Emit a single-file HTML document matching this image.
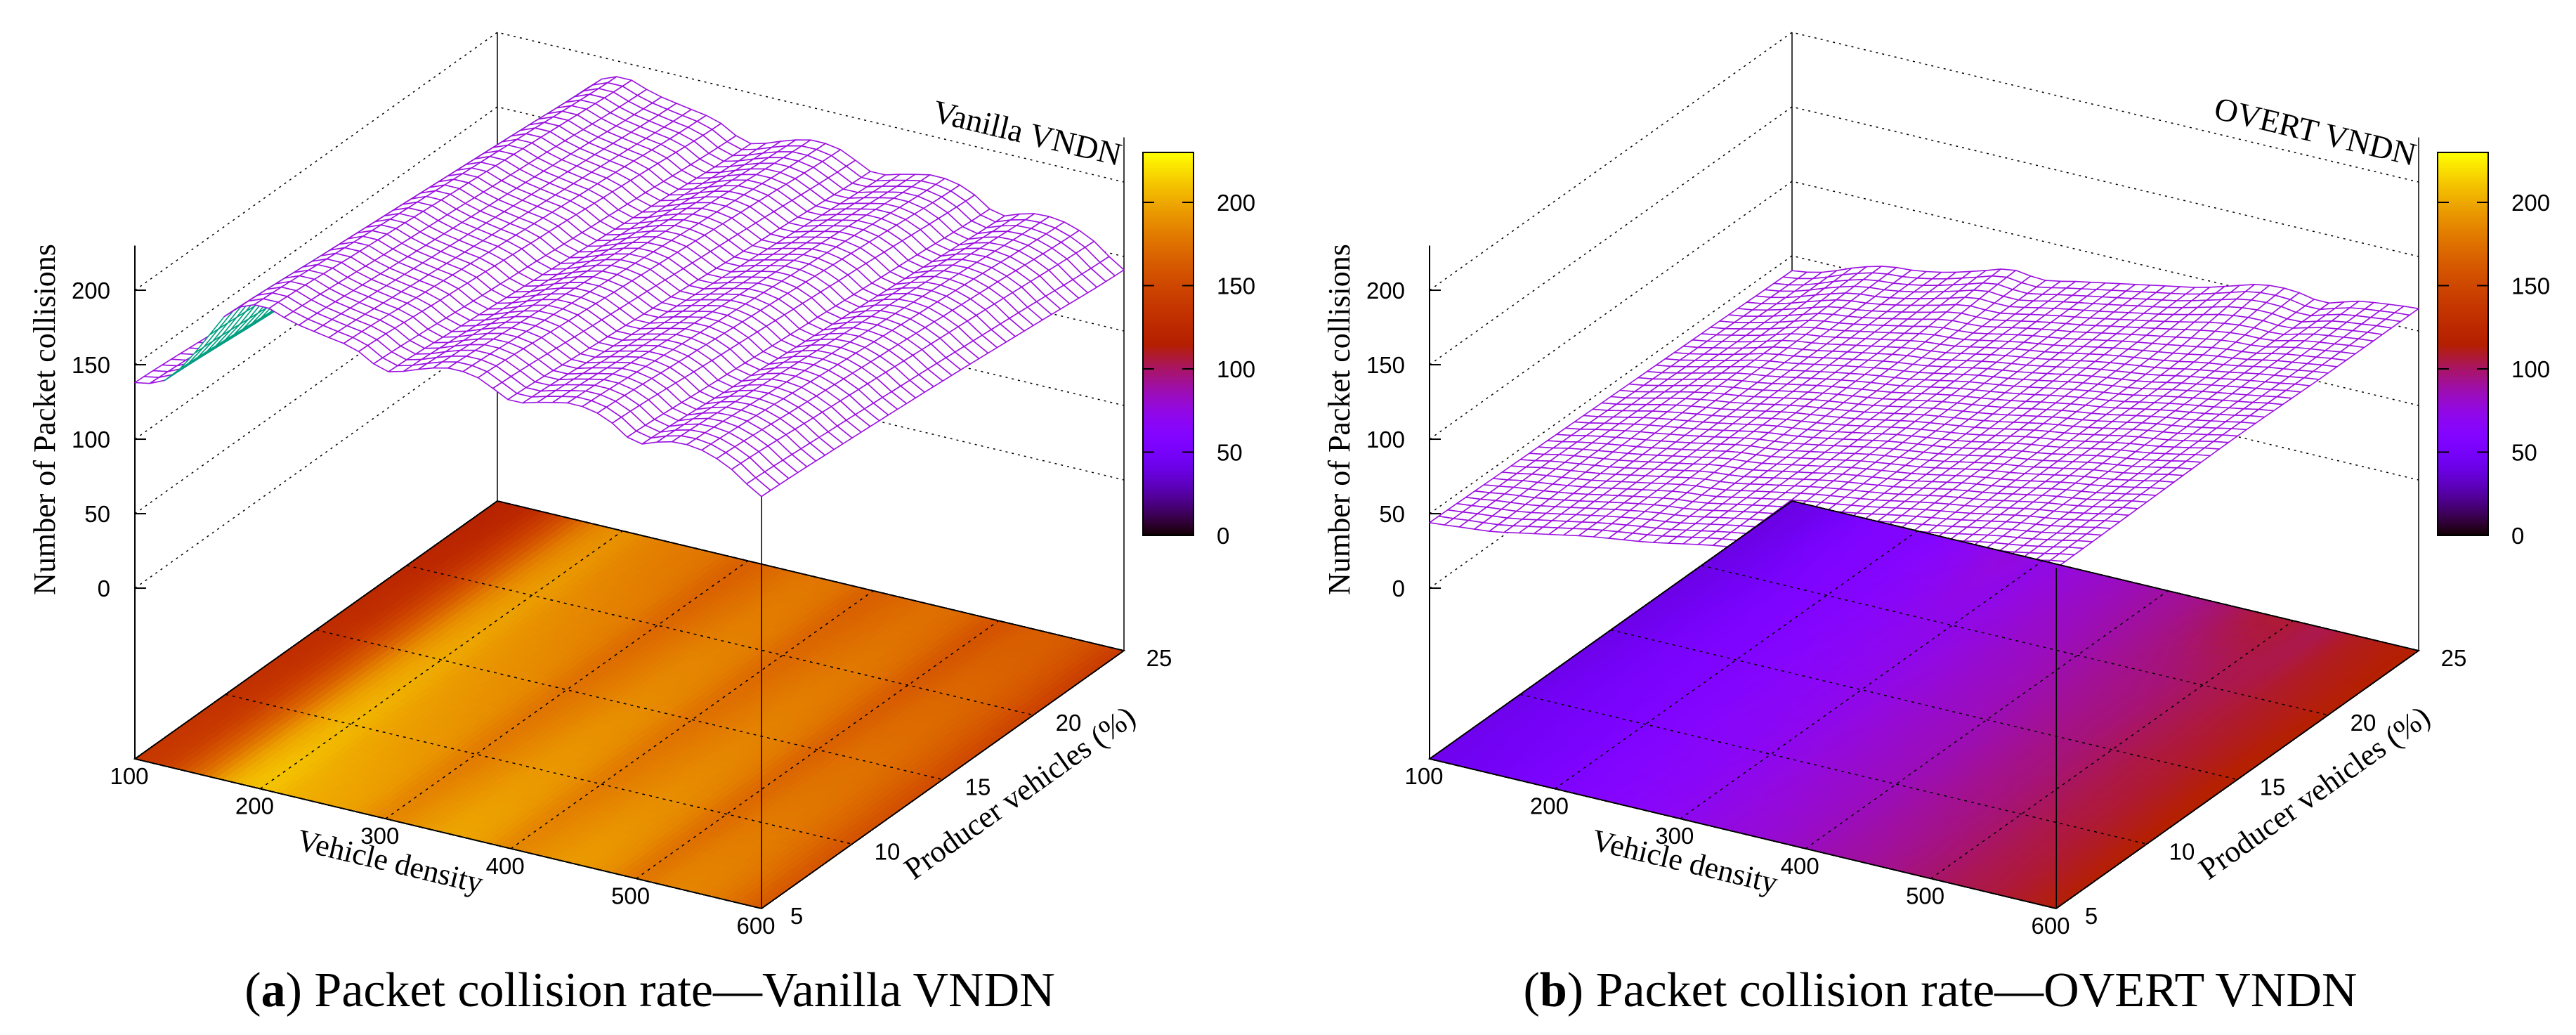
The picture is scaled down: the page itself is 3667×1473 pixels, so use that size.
<!DOCTYPE html>
<html><head><meta charset="utf-8">
<style>
html,body{margin:0;padding:0;background:#fff;}
svg{display:block;}
.tk{font-family:"Liberation Sans",sans-serif;font-size:33px;fill:#000;}
.sf{font-family:"Liberation Serif",serif;fill:#000;}
</style></head>
<body>
<svg id="fig" xmlns="http://www.w3.org/2000/svg" width="3667" height="1473" viewBox="0 0 3667 1473">
<rect width="3667" height="1473" fill="#fff"/>
<g id="panelA"></g>
<g id="panelB"></g>
<text class="sf" x="925" y="1432" font-size="70" text-anchor="middle">(<tspan font-weight="bold">a</tspan>) Packet collision rate—Vanilla VNDN</text>
<text class="sf" x="2762" y="1432" font-size="70" text-anchor="middle">(<tspan font-weight="bold">b</tspan>) Packet collision rate—OVERT VNDN</text>
</svg>
<script>
// ---- data ----
const densityValues = [100,125,150,175,200,225,250,275,300,325,350,375,400,425,450,475,500,525,550,575,600];
const producerValues = [5,10,15,20,25];
const densityTicks = [100,200,300,400,500,600];
const producerTicks = [5,10,15,20,25];
const zTicks = [0,50,100,150,200];
const cbTicks = [0,50,100,150,200];
const vanillaP5  = [138,145,170,200,210,204,200,196,186,192,198,196,186,190,194,190,178,184,184,176,162];
const vanillaP10 = [133,140,165,195,205,199,195,191,181,187,193,191,181,185,189,185,173,179,179,171,158];
const vanillaP15 = [128,135,160,190,200,194,190,186,176,182,188,186,176,180,184,180,168,174,174,166,153];
const vanillaP20 = [123,130,155,185,195,189,185,181,171,177,183,181,171,175,179,175,163,169,169,161,147];
const vanillaP25 = [118,125,150,180,190,184,180,176,166,172,178,176,166,170,174,170,158,164,164,156,141];
const overtP5  = [44,46,48,52,56,60,63,66,70,74,77,80,84,88,91,95,99,103,106,110,114];
const overtP10 = [43,47,50,53,57,61,65,67,71,75,79,82,85,89,93,96,100,104,107,111,115];
const overtP15 = [42,46,51,55,58,62,66,69,72,76,80,83,86,90,94,97,101,105,108,112,116];
const overtP20 = [41,45,50,56,59,63,67,71,73,77,81,84,88,92,95,98,102,105,109,112,115];
const overtP25 = [40,44,52,58,60,64,70,76,74,78,82,86,90,94,100,106,107,104,110,113,115];
const cbMax = 230;

const NS="http://www.w3.org/2000/svg";
function mk(tag,attrs,parent){const e=document.createElementNS(NS,tag);for(const k in attrs)e.setAttribute(k,attrs[k]);parent.appendChild(e);return e;}

function palette(v){ // gnuplot rgbformulae 7,5,15
  let x=Math.max(0,Math.min(1,v/cbMax));
  let r=Math.sqrt(x), g=x*x*x, b=Math.max(0,Math.sin(2*Math.PI*x));
  return "rgb("+Math.round(r*255)+","+Math.round(g*255)+","+Math.round(b*255)+")";
}
function cr(p0,p1,p2,p3,t){return 0.5*((2*p1)+(-p0+p2)*t+(2*p0-5*p1+4*p2-p3)*t*t+(-p0+3*p1-3*p2+p3)*t*t*t);}
function sampler(rows){
  return function(d,p){
    const fi=(d-densityValues[0])/(densityValues[1]-densityValues[0]);
    const fj=(p-producerValues[0])/(producerValues[1]-producerValues[0]);
    const i=Math.min(Math.floor(fi),densityValues.length-2), j=Math.min(Math.floor(fj),producerValues.length-2);
    const ti=fi-i, tj=fj-j;
    const R=k=>rows[Math.max(0,Math.min(rows.length-1,k))];
    const C=(row,k)=>row[Math.max(0,Math.min(row.length-1,k))];
    const col=[];
    for(let jj=j-1;jj<=j+2;jj++){const r=R(jj);col.push(cr(C(r,i-1),C(r,i),C(r,i+1),C(r,i+2),ti));}
    return cr(col[0],col[1],col[2],col[3],tj);
  };
}

function drawPanel(g,ox,rows,title,baseOnTop){
  const A={x:192+ox,y:1080},B={x:1084+ox,y:1293},D={x:708+ox,y:713};
  const zs=2.12, z0=114.6;
  const dMin=100,dMax=600,pMin=5,pMax=25;
  const proj=(d,p,z)=>{const t=(d-dMin)/(dMax-dMin),s=(p-pMin)/(pMax-pMin);
    return {x:A.x+t*(B.x-A.x)+s*(D.x-A.x), y:A.y+t*(B.y-A.y)+s*(D.y-A.y)-(z+z0)*zs};};
  const f=sampler(rows);
  const walls=mk('g',{},g);
  
  
  zTicks.forEach(z=>{
    const a=proj(dMin,pMin,z),b=proj(dMin,pMax,z),c=proj(dMax,pMax,z);
    mk('polyline',{points:`${a.x},${a.y} ${b.x},${b.y} ${c.x},${c.y}`,fill:'none',stroke:'#000','stroke-width':1.5,'stroke-dasharray':'3,6'},walls);
  });
  const ax=mk('g',{stroke:'#000','stroke-width':2},g);
  
  
  let a0=proj(dMin,pMin,-z0),a1=proj(dMin,pMin,230);
  mk('line',{x1:a0.x,y1:a0.y,x2:a1.x,y2:a1.y},ax);
  let d0=proj(dMin,pMax,-z0),d1=proj(dMin,pMax,200);
  mk('line',{x1:d0.x,y1:d0.y,x2:d1.x,y2:d1.y,'stroke-width':1.5},ax);
  let c0=proj(dMax,pMax,-z0),c1=proj(dMax,pMax,230);
  mk('line',{x1:c0.x,y1:c0.y,x2:c1.x,y2:c1.y,'stroke-width':1.5},ax);
  zTicks.forEach(z=>{const p=proj(dMin,pMin,z);
    mk('line',{x1:p.x,y1:p.y,x2:p.x+16,y2:p.y},ax);
    const t=mk('text',{x:p.x-35,y:p.y+12,'text-anchor':'end',class:'tk',stroke:'none'},g);
    
    
    t.textContent=z;});
  const surf=mk('g',{},g);
  
  
  const base=mk('g',{'shape-rendering':'crispEdges'},g);
  
  
  if(!baseOnTop){g.insertBefore(base,surf);}
  const NB=100,MB=40;
  for(let i=0;i<NB;i++)for(let j=0;j<MB;j++){
    const d1=dMin+(dMax-dMin)*i/NB,d2=dMin+(dMax-dMin)*(i+1)/NB,p1=pMin+(pMax-pMin)*j/MB,p2=pMin+(pMax-pMin)*(j+1)/MB;
    const v=f((d1+d2)/2,(p1+p2)/2);
    const q=[proj(d1,p1,-z0),proj(d2,p1,-z0),proj(d2,p2,-z0),proj(d1,p2,-z0)];
    const col=palette(v);
    mk('polygon',{points:q.map(o=>o.x.toFixed(1)+','+o.y.toFixed(1)).join(' '),fill:col,stroke:col,'stroke-width':0.8},base);
  }
  densityTicks.slice(1,-1).forEach(d=>{const a=proj(d,pMin,-z0),b=proj(d,pMax,-z0);
    mk('line',{x1:a.x,y1:a.y,x2:b.x,y2:b.y,stroke:'#000','stroke-width':1.5,'stroke-dasharray':'4,6'},base);});
  producerTicks.slice(1,-1).forEach(p=>{const a=proj(dMin,p,-z0),b=proj(dMax,p,-z0);
    mk('line',{x1:a.x,y1:a.y,x2:b.x,y2:b.y,stroke:'#000','stroke-width':1.5,'stroke-dasharray':'4,6'},base);});
  const cs=[proj(dMin,pMin,-z0),proj(dMax,pMin,-z0),proj(dMax,pMax,-z0),proj(dMin,pMax,-z0)];
  mk('polygon',{points:cs.map(o=>o.x+','+o.y).join(' '),fill:'none',stroke:'#000','stroke-width':2},base);
  const zb=f(dMax,pMin);
  const b0=proj(dMax,pMin,-z0),b1=proj(dMax,pMin,zb);
  mk('line',{x1:b0.x,y1:b0.y,x2:b1.x,y2:b1.y,stroke:'#000','stroke-width':1.5},base);
  const N=42,M=40,quads=[];
  for(let i=0;i<N;i++)for(let j=0;j<M;j++){
    const d1=dMin+(dMax-dMin)*i/N,d2=dMin+(dMax-dMin)*(i+1)/N,p1=pMin+(pMax-pMin)*j/M,p2=pMin+(pMax-pMin)*(j+1)/M;
    const q=[proj(d1,p1,f(d1,p1)),proj(d2,p1,f(d2,p1)),proj(d2,p2,f(d2,p2)),proj(d1,p2,f(d1,p2))];
    const depth=proj((d1+d2)/2,(p1+p2)/2,0).y;
    let ar=0;for(let k=0;k<4;k++){const u=q[k],w=q[(k+1)%4];ar+=u.x*w.y-w.x*u.y;}
    quads.push({q,depth,under:ar>0});
  }
  quads.sort((a,b)=>a.depth-b.depth);
  quads.forEach(o=>{
    mk('polygon',{points:o.q.map(p=>p.x.toFixed(1)+','+p.y.toFixed(1)).join(' '),fill:'#fff',stroke:o.under?'#00a080':'#9a10e0','stroke-width':1.6,'stroke-linejoin':'round'},surf);
  });
  densityTicks.forEach(d=>{const p=proj(d,pMin,-z0);
    const t=mk('text',{x:p.x-8,y:p.y+36,'text-anchor':'middle',class:'tk'},g);
    
    
    t.textContent=d;});
  producerTicks.forEach(pv=>{const p=proj(dMax,pv,-z0);
    const t=mk('text',{x:p.x+50,y:p.y+22,'text-anchor':'middle',class:'tk'},g);
    
    
    t.textContent=pv;});
  const zt=mk('text',{x:0,y:0,class:'sf','font-size':44,'text-anchor':'middle',transform:`translate(${78+ox},597) rotate(-90)`},g);
  
  
  zt.textContent='Number of Packet collisions';
  const xt=mk('text',{x:0,y:0,class:'sf','font-size':44,'text-anchor':'middle',transform:`translate(${552+ox},1240) rotate(13.4)`},g);
  
  
  xt.textContent='Vehicle density';
  const yt=mk('text',{x:0,y:0,class:'sf','font-size':44,'text-anchor':'middle',transform:`translate(${1460+ox},1140) rotate(-35.4)`},g);
  
  
  yt.textContent='Producer vehicles (%)';
  const kt=mk('text',{x:0,y:0,class:'sf','font-size':46,'text-anchor':'end',transform:`translate(${1592+ox},236) rotate(13.4)`},g);
  
  
  kt.textContent=title;
  const cb=mk('g',{},g);
  
  
  const cx0=1627+ox,cx1=1699,cyB=762,cs2=2.37;
  for(let k=0;k<cbMax;k++){
    const y=cyB-(k+1)*cs2;
    mk('rect',{x:cx0,y:y.toFixed(2),width:cx1-1627,height:(cs2+0.6).toFixed(2),fill:palette(k+0.5)},cb);
  }
  mk('rect',{x:cx0,y:cyB-cbMax*cs2,width:cx1-1627,height:cbMax*cs2,fill:'none',stroke:'#000','stroke-width':2},cb);
  cbTicks.forEach(v=>{const y=cyB-v*cs2;
    mk('line',{x1:cx0,y1:y,x2:cx0+16,y2:y,stroke:'#000','stroke-width':2},cb);
    mk('line',{x1:cx0+72-16,y1:y,x2:cx0+72,y2:y,stroke:'#000','stroke-width':2},cb);
    const t=mk('text',{x:cx0+105,y:y+12,class:'tk'},cb);
    
    
    t.textContent=v;});
}
drawPanel(document.getElementById('panelA'),0,[vanillaP5,vanillaP10,vanillaP15,vanillaP20,vanillaP25],'Vanilla VNDN',false);
drawPanel(document.getElementById('panelB'),1843,[overtP5,overtP10,overtP15,overtP20,overtP25],'OVERT VNDN',true);
</script>
</body></html>
